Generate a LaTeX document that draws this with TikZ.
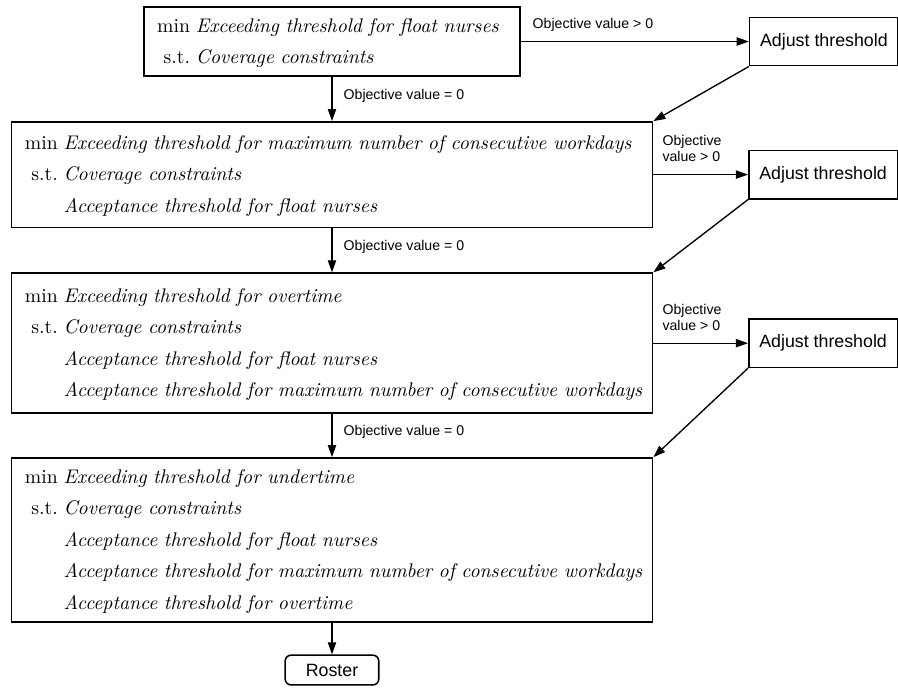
\documentclass[tikz,border=0pt]{standalone}
\usepackage{fontspec}
\newfontfamily\labelfont{Liberation Sans}
\usetikzlibrary{arrows.meta,positioning}
\renewcommand{\arraystretch}{1.36}
\tikzset{
    stage/.style={
        draw,
        line width=0.8pt,
        align=left,
        inner xsep=2.45mm,
        inner ysep=0pt,
        text width=111.6mm,
        minimum width=116.5mm,
        font=\fontsize{10.2}{12}\selectfont
    },
    adjust/.style={
        draw,
        line width=0.8pt,
        minimum width=27mm,
        minimum height=8.8mm,
        inner sep=0pt,
        font=\labelfont\fontsize{9.2}{11}\selectfont
    },
    result/.style={
        draw,
        line width=0.8pt,
        rounded corners=3pt,
        minimum width=17mm,
        minimum height=5.4mm,
        inner sep=0pt,
        font=\labelfont\fontsize{9.2}{11}\selectfont
    },
    arrow/.style={
        -{Triangle[length=2.2mm,width=1.5mm]},
        line width=0.7pt
    },
    lbl/.style={font=\labelfont\fontsize{7.3}{8.3}\selectfont, inner sep=0pt}
}
\begin{document}
\begin{tikzpicture}[node distance=8.05mm and 17.2mm]

\node[stage, text width=63.5mm, minimum width=68.4mm, minimum height=12.55mm] (obj1) {%
    \begin{tabular}{@{}r@{\hspace{3pt}}l@{}}
    min & \textit{Exceeding threshold for float nurses}\\
    s.t. & \textit{Coverage constraints}
    \end{tabular}};
\useasboundingbox (-60.32mm,7.54mm) rectangle (102.84mm,-117.29mm);

\node[stage, minimum height=19.15mm, below=of obj1] (obj2) {%
    \begin{tabular}{@{}r@{\hspace{3pt}}l@{}}
    min & \textit{Exceeding threshold for maximum number of consecutive workdays}\\
    s.t. & \textit{Coverage constraints}\\
         & \textit{Acceptance threshold for float nurses}
    \end{tabular}};

\node[stage, minimum height=25.45mm, below=of obj2] (obj3) {%
    \begin{tabular}{@{}r@{\hspace{3pt}}l@{}}
    min & \textit{Exceeding threshold for overtime}\\
    s.t. & \textit{Coverage constraints}\\
         & \textit{Acceptance threshold for float nurses}\\
         & \textit{Acceptance threshold for maximum number of consecutive workdays}
    \end{tabular}\par\vspace{1.5mm}};

\node[stage, minimum height=29.85mm, below=7.85mm of obj3] (obj4) {%
    \begin{tabular}{@{}r@{\hspace{3pt}}l@{}}
    min & \textit{Exceeding threshold for undertime}\\
    s.t. & \textit{Coverage constraints}\\
         & \textit{Acceptance threshold for float nurses}\\
         & \textit{Acceptance threshold for maximum number of consecutive workdays}\\
         & \textit{Acceptance threshold for overtime}
    \end{tabular}};

\node[result, below=5.7mm of obj4] (roster) {Roster};

\node[adjust, right=41.4mm of obj1] (adj1) {Adjust threshold};
\node[adjust, right=of obj2] (adj2) {Adjust threshold};
\node[adjust, right=of obj3] (adj3) {Adjust threshold};

\draw[arrow] (obj1) -- node[lbl, above right=1.7mm and 2mm, pos=0] {Objective value > 0} (adj1);
\draw[arrow] (obj2) -- node[lbl, align=left, above right=2.2mm and 1.55mm, pos=0] {Objective\\value > 0} (adj2);
\draw[arrow] (obj3) -- node[lbl, align=left, above right=2.2mm and 1.55mm, pos=0] {Objective\\value > 0} (adj3);

\draw[arrow] (adj1.south west) -- (obj2.north east);
\draw[arrow] (adj2.south west) -- (obj3.north east);
\draw[arrow] (adj3.south west) -- (obj4.north east);

\draw[arrow] (obj1) -- node[lbl, right=2mm, pos=0.42] {Objective value = 0} (obj2);
\draw[arrow] (obj2) -- node[lbl, right=2mm, pos=0.42] {Objective value = 0} (obj3);
\draw[arrow] (obj3) -- node[lbl, right=2mm, pos=0.42] {Objective value = 0} (obj4);
\draw[arrow] (obj4) -- (roster);

\end{tikzpicture}
\end{document}
